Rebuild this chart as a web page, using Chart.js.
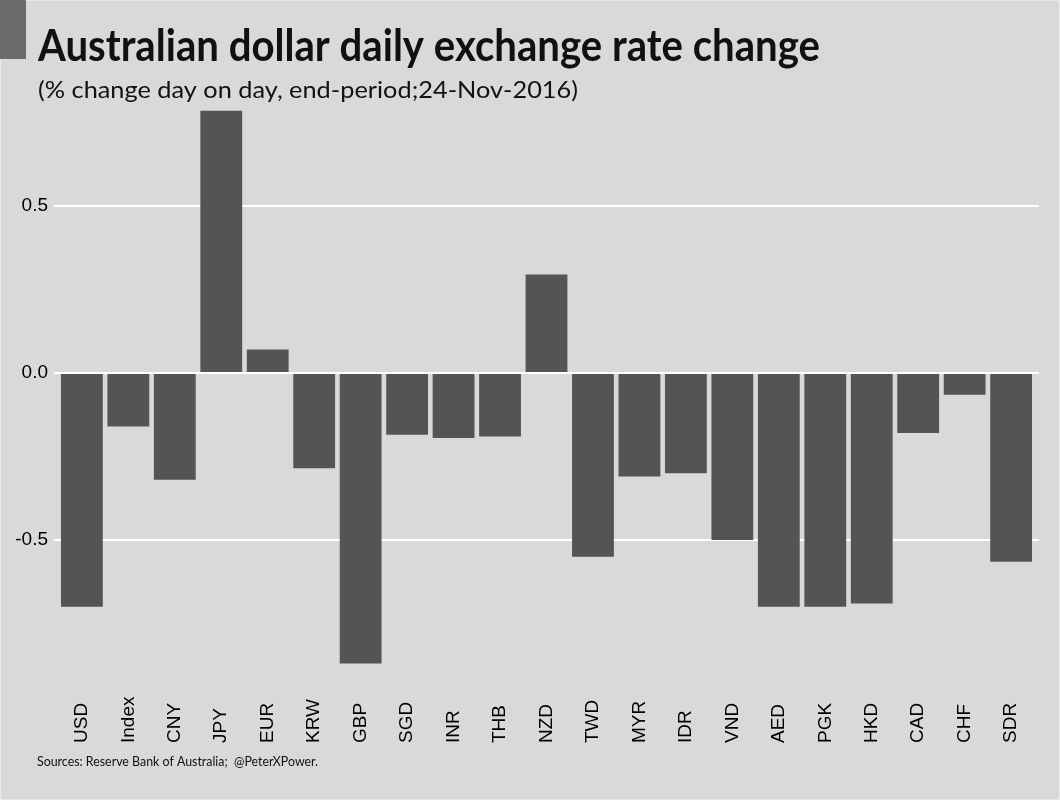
<!DOCTYPE html>
<html>
<head>
<meta charset="utf-8">
<script src="https://cdn.jsdelivr.net/npm/chart.js@4/dist/chart.umd.min.js"></script>
<style>
  html, body { margin: 0; padding: 0; background: #d9d9d9; }
  canvas { display: block; }
</style>
</head>
<body>
<canvas id="chart" width="1060" height="800"></canvas>
<script>
// currencies, in the order they are plotted
var currencies = ['USD', 'Index', 'CNY', 'JPY', 'EUR', 'KRW', 'GBP', 'SGD', 'INR', 'THB', 'NZD',
                  'TWD', 'MYR', 'IDR', 'VND', 'AED', 'PGK', 'HKD', 'CAD', 'CHF', 'SDR'];

// % change day on day
var changes = [-0.70, -0.16, -0.32, 0.785, 0.07, -0.285, -0.87, -0.185, -0.195, -0.19, 0.295,
               -0.55, -0.31, -0.30, -0.50, -0.70, -0.70, -0.69, -0.18, -0.065, -0.565];

var yTicks = [-0.5, 0, 0.5];

var titleText = 'Australian dollar daily exchange rate change';
var subtitleText = '(% change day on day, end-period;24-Nov-2016)';
var captionText = 'Sources: Reserve Bank of Australia;  @PeterXPower.';

// draws text squeezed/stretched to a given width (the original uses a condensed face)
function fitText(ctx, text, x, y, font, width) {
    ctx.save();
    ctx.font = font;
    var w = ctx.measureText(text).width;
    ctx.translate(x, y);
    ctx.scale(width / w, 1);
    ctx.fillText(text, 0, 0);
    ctx.restore();
}

var decorPlugin = {
    id: 'decor',
    beforeDraw: function(chart) {
        var ctx = chart.ctx;
        ctx.save();
        ctx.fillStyle = '#d9d9d9';
        ctx.fillRect(0, 0, chart.width, chart.height);
        ctx.strokeStyle = '#e9e9e9';
        ctx.lineWidth = 1;
        ctx.strokeRect(0.5, 0.5, chart.width - 1, chart.height - 1);
        ctx.fillStyle = '#6b6b6b';
        ctx.fillRect(0, 0, 26, 59);
        ctx.restore();
    },
    afterDraw: function(chart) {
        var ctx = chart.ctx;
        ctx.save();
        ctx.fillStyle = '#111111';
        ctx.textAlign = 'left';
        ctx.textBaseline = 'alphabetic';
        fitText(ctx, titleText, 38, 61, 'bold 43px Lato', 782);
        fitText(ctx, subtitleText, 38, 98, '24px Lato', 540);
        fitText(ctx, captionText, 37, 766, '14px Lato', 281);

        // category labels, rotated and anchored at their start like the original
        var xScale = chart.scales.x;
        ctx.fillStyle = '#000000';
        ctx.font = '19px "Liberation Sans", Arial, sans-serif';
        ctx.textBaseline = 'middle';
        currencies.forEach(function(label, i) {
            ctx.save();
            ctx.translate(xScale.getPixelForValue(i), 743);
            ctx.rotate(-Math.PI / 2);
            ctx.fillText(label, 0, 0);
            ctx.restore();
        });
        ctx.restore();
    }
};

var points = changes.map(function(v, i) {
    return { x: i, y: v };
});

new Chart(document.getElementById('chart'), {
    type: 'bar',
    data: {
        datasets: [{
            data: points,
            backgroundColor: '#535453',
            borderWidth: 0,
            barPercentage: 0.9,
            categoryPercentage: 1
        }]
    },
    options: {
        responsive: false,
        animation: false,
        devicePixelRatio: 1,
        layout: { padding: { top: 83, right: 21, bottom: 109, left: 0 } },
        plugins: {
            legend: { display: false },
            tooltip: { enabled: false }
        },
        scales: {
            x: {
                type: 'linear',
                display: false,
                offset: false,
                min: -0.6,
                max: currencies.length - 0.4
            },
            y: {
                min: -0.952,
                max: 0.868,
                afterFit: function(scale) { scale.width = 54; },
                afterBuildTicks: function(scale) {
                    scale.ticks = yTicks.map(function(v) { return { value: v }; });
                },
                border: { display: false },
                grid: { color: '#ffffff', lineWidth: 2, drawTicks: false },
                ticks: {
                    padding: 6,
                    color: '#000000',
                    font: { family: '"Liberation Sans", Arial, sans-serif', size: 19 },
                    callback: function(v) { return v.toFixed(1); }
                }
            }
        }
    },
    plugins: [decorPlugin]
});
</script>
</body>
</html>
